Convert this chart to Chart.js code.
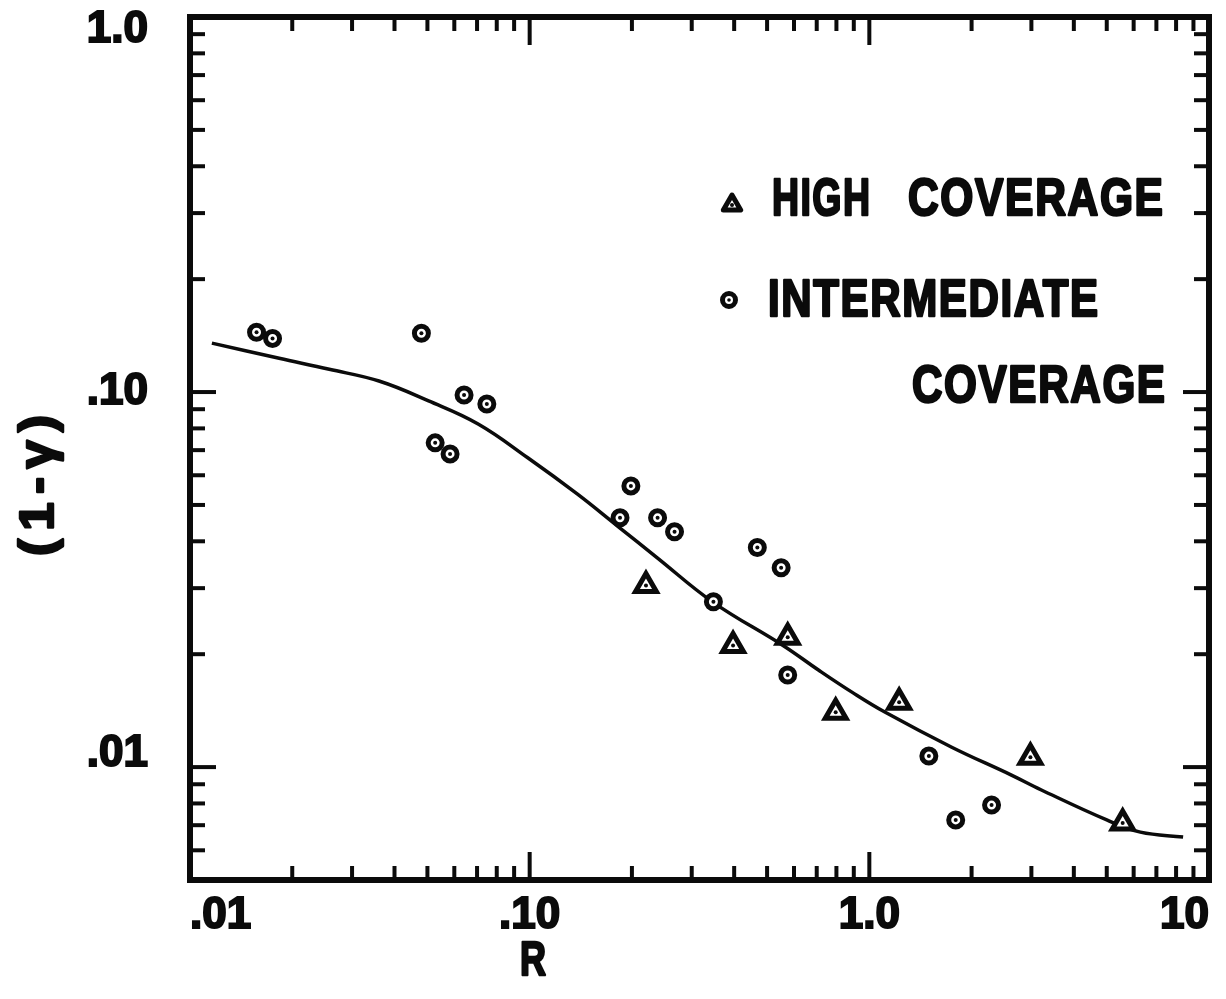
<!DOCTYPE html>
<html>
<head>
<meta charset="utf-8">
<title>(1-γ) vs R</title>
<script src="https://cdn.jsdelivr.net/npm/chart.js@4.4.1/dist/chart.umd.min.js"></script>
<style>
  html, body { margin: 0; padding: 0; background: #fff; }
</style>
</head>
<body>
<canvas id="chart" width="1226" height="999"></canvas>
<script>
// fitted curve through the data
const curveR = [0.0116, 0.0183, 0.0257, 0.036, 0.0504, 0.0705, 0.0987, 0.138, 0.181, 0.237, 0.347, 0.557, 0.710, 0.891, 1.114, 1.748, 2.62, 3.21, 5.0, 6.28, 8.39];
const curveY = [0.135, 0.123, 0.115, 0.107, 0.0947, 0.0822, 0.0668, 0.0535, 0.044, 0.0362, 0.0275, 0.0211, 0.01812, 0.01582, 0.0140, 0.0113, 0.00952, 0.00869, 0.00723, 0.00671, 0.00651];

// high coverage (triangles)
const highR = [0.22, 0.397, 0.575, 0.796, 1.224, 2.98, 5.57];
const highY = [0.0305, 0.0211, 0.0222, 0.0140, 0.0149, 0.01063, 0.0071];

// intermediate coverage (circles)
const interR = [0.0157, 0.0175, 0.048, 0.0527, 0.0583, 0.0641, 0.0748, 0.1845, 0.1986, 0.238, 0.267, 0.3475, 0.468, 0.55, 0.575, 1.497, 1.796, 2.29];
const interY = [0.1444, 0.139, 0.1435, 0.0732, 0.0684, 0.0982, 0.0929, 0.0462, 0.0562, 0.0462, 0.0424, 0.0276, 0.0385, 0.034, 0.0176, 0.0107, 0.00723, 0.00792];

// axes
const rDecades = [0.01, 0.1, 1, 10];
const rLabels = ['.01', '.10', '1.0', '10'];
const yDecades = [0.01, 0.1, 1];
const yLabels = [['.01', ''], '.10', ['', '1.0']];
const minorSteps = [2, 3, 4, 5, 6, 7, 8, 9];

const ink = '#0b0b0b';
const face = '"Liberation Sans", Arial, sans-serif';

const toPoints = (xs, ys) => xs.map((x, i) => ({ x: x, y: ys[i] }));

function logTicks(decades, min, max) {
  const vals = [];
  decades.forEach(d => {
    vals.push(d);
    minorSteps.forEach(m => vals.push(+(d * m).toPrecision(3)));
    minorSteps.forEach(m => vals.push(+(d / 10 * m).toPrecision(3)));
  });
  return [...new Set(vals)]
    .filter(v => v >= min - 1e-12 && v <= max + 1e-12)
    .sort((a, b) => a - b)
    .map(v => ({ value: v }));
}

function labelFor(decades, labels, v) {
  const i = decades.findIndex(d => Math.abs(d - v) / d < 1e-6);
  return i >= 0 ? labels[i] : '';
}

// squeeze a word into a given width, left edge at x; stroked for the heavy lettering
function fitText(ctx, text, x, y, width, spacing) {
  ctx.letterSpacing = (spacing || 0) + 'px';
  const w = ctx.measureText(text).width - (spacing || 0);
  ctx.save();
  ctx.translate(x, y);
  ctx.scale(width / w, 1);
  ctx.textAlign = 'left';
  ctx.lineWidth = 2.5;
  ctx.lineJoin = 'round';
  ctx.strokeText(text, 0, 0);
  ctx.fillText(text, 0, 0);
  ctx.restore();
}

// frame, inward ticks on all four sides, legend and axis titles
const decorations = {
  id: 'decorations',
  afterDraw(chart) {
    const { ctx, chartArea: a, scales } = chart;
    ctx.save();
    ctx.strokeStyle = ink;
    ctx.fillStyle = ink;

    const seg = (x1, y1, x2, y2) => {
      ctx.beginPath();
      ctx.moveTo(x1, y1);
      ctx.lineTo(x2, y2);
      ctx.stroke();
    };

    ctx.lineWidth = 4;
    scales.x.ticks.forEach(t => {
      const px = scales.x.getPixelForValue(t.value);
      if (px <= a.left + 2 || px >= a.right - 2) return;
      const len = labelFor(rDecades, rLabels, t.value) ? 28 : 14;
      seg(px, a.bottom, px, a.bottom - len);
      seg(px, a.top, px, a.top + len);
    });
    scales.y.ticks.forEach(t => {
      const py = scales.y.getPixelForValue(t.value);
      if (py <= a.top + 2 || py >= a.bottom - 2) return;
      const len = labelFor(yDecades, yLabels, t.value) ? 26 : 15;
      seg(a.left, py, a.left + len, py);
      seg(a.right, py, a.right - len, py);
    });

    ctx.lineWidth = 6;
    ctx.strokeRect(a.left, a.top, a.width, a.height);

    // legend symbols
    ctx.lineWidth = 5;
    ctx.lineJoin = 'round';
    const tx = 732, ty = 205, tr = 10;
    ctx.beginPath();
    for (let k = 0; k < 3; k++) {
      const ang = k * 2 * Math.PI / 3;
      const px = tx + Math.sin(ang) * tr, py = ty - Math.cos(ang) * tr;
      k === 0 ? ctx.moveTo(px, py) : ctx.lineTo(px, py);
    }
    ctx.closePath();
    ctx.fillStyle = '#fff';
    ctx.fill();
    ctx.stroke();
    ctx.fillStyle = ink;
    ctx.beginPath();
    ctx.arc(tx, ty, 2, 0, Math.PI * 2);
    ctx.fill();

    ctx.lineWidth = 5;
    ctx.beginPath();
    ctx.arc(729, 300, 6.5, 0, Math.PI * 2);
    ctx.stroke();
    ctx.beginPath();
    ctx.arc(729, 300, 1.8, 0, Math.PI * 2);
    ctx.fill();

    // legend text
    ctx.font = 'bold 52px ' + face;
    ctx.textBaseline = 'alphabetic';
    fitText(ctx, 'HIGH', 772, 215, 98, 2);
    fitText(ctx, 'COVERAGE', 908, 215, 255, 2);
    fitText(ctx, 'INTERMEDIATE', 768, 316, 330, 2);
    fitText(ctx, 'COVERAGE', 912, 402, 253, 2);

    // axis titles
    ctx.font = 'bold 49px ' + face;
    fitText(ctx, 'R', 520, 975, 26, 0);

    ctx.translate(53, 556);
    ctx.rotate(-Math.PI / 2);
    ctx.font = 'bold 48px ' + face;
    fitText(ctx, '(1-γ)', 0, 0, 141, 8);
    ctx.restore();
  }
};

new Chart(document.getElementById('chart'), {
  type: 'scatter',
  data: {
    datasets: [
      {
        type: 'line',
        label: 'fit',
        data: toPoints(curveR, curveY),
        borderColor: ink,
        borderWidth: 3.5,
        pointRadius: 0,
        fill: false,
        tension: 0.4,
        order: 4
      },
      {
        label: 'HIGH COVERAGE',
        data: toPoints(highR, highY),
        pointStyle: 'triangle',
        pointRadius: 12,
        borderWidth: 5,
        borderColor: ink,
        backgroundColor: '#fff',
        order: 3
      },
      {
        label: 'INTERMEDIATE COVERAGE',
        data: toPoints(interR, interY),
        pointStyle: 'circle',
        pointRadius: 7,
        borderWidth: 5,
        borderColor: ink,
        backgroundColor: '#fff',
        order: 2
      },
      {
        label: 'centres',
        data: toPoints(highR.concat(interR), highY.concat(interY)),
        pointStyle: 'circle',
        pointRadius: 2,
        borderWidth: 0,
        backgroundColor: ink,
        order: 1
      }
    ]
  },
  options: {
    responsive: false,
    devicePixelRatio: 1,
    animation: false,
    layout: { padding: { left: 0, top: 15, right: 11, bottom: 0 } },
    plugins: {
      legend: { display: false },
      tooltip: { enabled: false }
    },
    scales: {
      x: {
        type: 'logarithmic',
        min: 0.01,
        max: 10,
        border: { display: false },
        grid: { display: false, drawTicks: false },
        afterBuildTicks: s => { s.ticks = logTicks(rDecades, 0.01, 10); },
        afterFit: s => { s.height = 119; s.paddingLeft = 0; s.paddingRight = 0; },
        ticks: {
          autoSkip: false,
          maxRotation: 0,
          align: 'inner',
          padding: 14,
          color: ink,
          textStrokeColor: ink,
          textStrokeWidth: 2,
          font: { family: face, weight: 'bold', size: 44, lineHeight: 1 },
          callback: v => labelFor(rDecades, rLabels, v)
        }
      },
      y: {
        type: 'logarithmic',
        min: 0.005,
        max: 1,
        border: { display: false },
        grid: { display: false, drawTicks: false },
        afterBuildTicks: s => { s.ticks = logTicks(yDecades, 0.005, 1); },
        afterFit: s => { s.width = 190; s.paddingTop = 0; s.paddingBottom = 0; },
        ticks: {
          autoSkip: false,
          padding: 42,
          color: ink,
          textStrokeColor: ink,
          textStrokeWidth: 2,
          font: { family: face, weight: 'bold', size: 44, lineHeight: 0.6 },
          callback: v => labelFor(yDecades, yLabels, v)
        }
      }
    }
  },
  plugins: [decorations]
});
</script>
</body>
</html>
